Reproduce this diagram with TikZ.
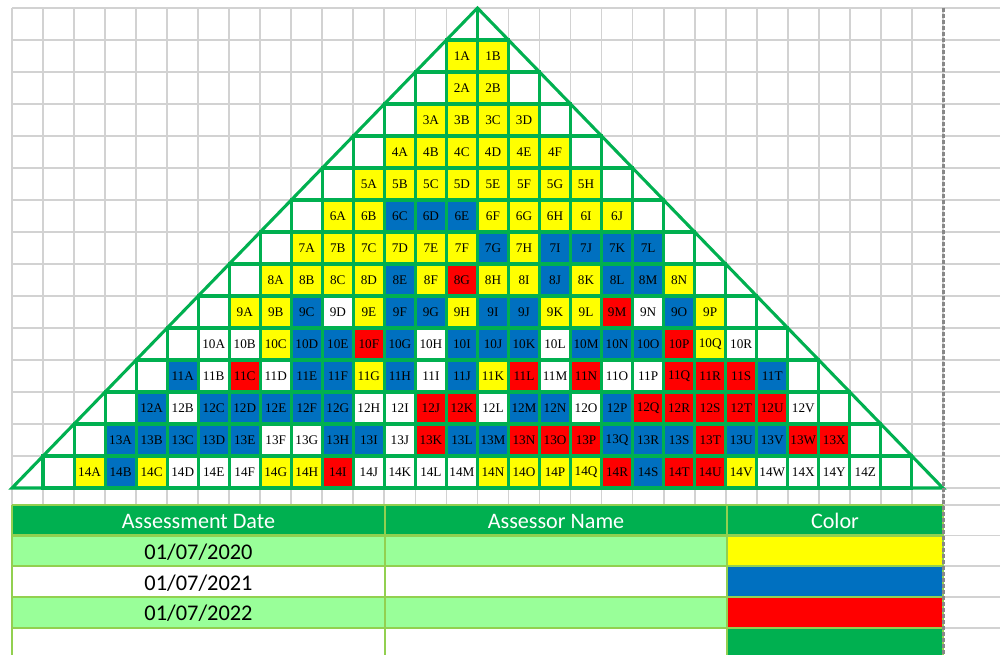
\documentclass[tikz,border=0pt]{standalone}
\usepackage{fontspec}
\setmainfont{Liberation Serif}
\newfontfamily\calibri{Carlito}
\definecolor{cY}{HTML}{FFFF00}
\definecolor{cB}{HTML}{0070C0}
\definecolor{cR}{HTML}{FF0000}
\definecolor{cW}{HTML}{FFFFFF}
\definecolor{xlgreen}{HTML}{00B050}
\definecolor{lgreen}{HTML}{99FF99}
\definecolor{tborder}{HTML}{92D050}
\definecolor{gridgray}{HTML}{D2D2D2}
\definecolor{breakgray}{HTML}{888888}
\def\cw{31.03}
\tikzset{
  gridline/.style={draw=gridgray, line width=1.3pt},
  gline/.style={draw=xlgreen, line width=2.3pt},
  tline/.style={draw=tborder, line width=1.6pt},
  cell/.style={inner sep=0pt, font=\fontsize{9.9}{10}\selectfont, text=black},
  hdr/.style={inner sep=0pt, font=\calibri\fontsize{16.6}{18}\selectfont, text=white},
  dat/.style={inner sep=0pt, font=\calibri\fontsize{16.8}{18}\selectfont, text=black},
  pagebreak/.style={draw=breakgray, line width=1.6pt, dash pattern=on 3pt off 1.5pt},
}
\newcommand\trow[3]{%
  \foreach \lab/\cc [count=\i from 0] in {#3} {
    \pgfmathsetmacro\xx{12+(#2+\i)*\cw}
    \pgfmathsetmacro\yy{8+#1*32}
    \fill[c\cc] (\xx,\yy) rectangle ++(\cw,32);
    \node[cell] (n\lab) at (\xx+\cw/2,\yy+16.5) {\lab};
  }
}
\begin{document}
\begin{tikzpicture}[x=0.75pt,y=-0.75pt]
\useasboundingbox[fill=white] (0,0) rectangle (1000,655);
% background grid
\foreach \k in {0,...,30} \draw[gridline] ({12+\k*\cw},8) -- ({12+\k*\cw},505);
\foreach \k in {0,...,15} \draw[gridline] (12,{8+32*\k}) -- (1000,{8+32*\k});
\draw[gridline] (12,505) -- (1000,505);
\foreach \y in {535.5,566,597,628} \draw[gridline] (943,\y) -- (1000,\y);
% triangle interior
\fill[white] (12,488) -- ({12+15*\cw},8) -- ({12+30*\cw},488) -- cycle;
% coloured cells with labels
\trow{1}{14}{1A/Y,1B/Y}
\trow{2}{14}{2A/Y,2B/Y}
\trow{3}{13}{3A/Y,3B/Y,3C/Y,3D/Y}
\trow{4}{12}{4A/Y,4B/Y,4C/Y,4D/Y,4E/Y,4F/Y}
\trow{5}{11}{5A/Y,5B/Y,5C/Y,5D/Y,5E/Y,5F/Y,5G/Y,5H/Y}
\trow{6}{10}{6A/Y,6B/Y,6C/B,6D/B,6E/B,6F/Y,6G/Y,6H/Y,6I/Y,6J/Y}
\trow{7}{9}{7A/Y,7B/Y,7C/Y,7D/Y,7E/Y,7F/Y,7G/B,7H/Y,7I/B,7J/B,7K/B,7L/B}
\trow{8}{8}{8A/Y,8B/Y,8C/Y,8D/Y,8E/B,8F/Y,8G/R,8H/Y,8I/Y,8J/B,8K/Y,8L/B,8M/B,8N/Y}
\trow{9}{7}{9A/Y,9B/Y,9C/B,9D/W,9E/Y,9F/B,9G/B,9H/Y,9I/B,9J/B,9K/Y,9L/Y,9M/R,9N/W,9O/B,9P/Y}
\trow{10}{6}{10A/W,10B/W,10C/Y,10D/B,10E/B,10F/R,10G/B,10H/W,10I/B,10J/B,10K/B,10L/W,10M/B,10N/B,10O/B,10P/R,10Q/Y,10R/W}
\trow{11}{5}{11A/B,11B/W,11C/R,11D/W,11E/B,11F/B,11G/Y,11H/B,11I/W,11J/B,11K/Y,11L/R,11M/W,11N/R,11O/W,11P/W,11Q/R,11R/R,11S/R,11T/B}
\trow{12}{4}{12A/B,12B/W,12C/B,12D/B,12E/B,12F/B,12G/B,12H/W,12I/W,12J/R,12K/R,12L/W,12M/B,12N/B,12O/W,12P/B,12Q/R,12R/R,12S/R,12T/R,12U/R,12V/W}
\trow{13}{3}{13A/B,13B/B,13C/B,13D/B,13E/B,13F/W,13G/W,13H/B,13I/B,13J/W,13K/R,13L/B,13M/B,13N/R,13O/R,13P/R,13Q/B,13R/B,13S/B,13T/R,13U/B,13V/B,13W/R,13X/R}
\trow{14}{2}{14A/Y,14B/B,14C/Y,14D/W,14E/W,14F/W,14G/Y,14H/Y,14I/R,14J/W,14K/W,14L/W,14M/W,14N/Y,14O/Y,14P/Y,14Q/Y,14R/R,14S/B,14T/R,14U/R,14V/Y,14W/W,14X/W,14Y/W,14Z/W}
% green cell borders
\foreach \r in {1,...,14} {
  \pgfmathtruncatemacro\cs{15-\r}
  \pgfmathtruncatemacro\ce{14+\r}
  \foreach \c in {\cs,...,\ce}
    \draw[gline] ({12+\c*\cw},{8+\r*32}) rectangle ++(\cw,32);
}
% triangle outline
\draw[gline, line join=miter] (12,488) -- ({12+15*\cw},8) -- ({12+30*\cw},488) -- cycle;
\draw[gline] ({12+15*\cw},8) -- ({12+15*\cw},40);
% legend table
\fill[xlgreen] (12,505) rectangle (943,535.5);
\fill[lgreen] (12,535.5) rectangle (727,566);
\fill[lgreen] (12,597) rectangle (727,628);
\fill[cY] (727,535.5) rectangle (943,566);
\fill[cB] (727,566) rectangle (943,597);
\fill[cR] (727,597) rectangle (943,628);
\fill[xlgreen] (727,628) rectangle (943,655);
\foreach \y in {505,535.5,566,597,628} \draw[tline] (12,\y) -- (943,\y);
\foreach \x in {12,385,727,943} \draw[tline] (\x,505) -- (\x,655);
\node[hdr] (h1) at (198.5,521) {Assessment Date};
\node[hdr] (h2) at (556,521) {Assessor Name};
\node[hdr] (h3) at (835,521) {Color};
\node[dat] (d1) at (198.5,552) {01/07/2020};
\node[dat] (d2) at (198.5,583) {01/07/2021};
\node[dat] (d3) at (198.5,613.5) {01/07/2022};
% page break
\draw[pagebreak] (943.5,8) -- (943.5,655);
\end{tikzpicture}
\end{document}
